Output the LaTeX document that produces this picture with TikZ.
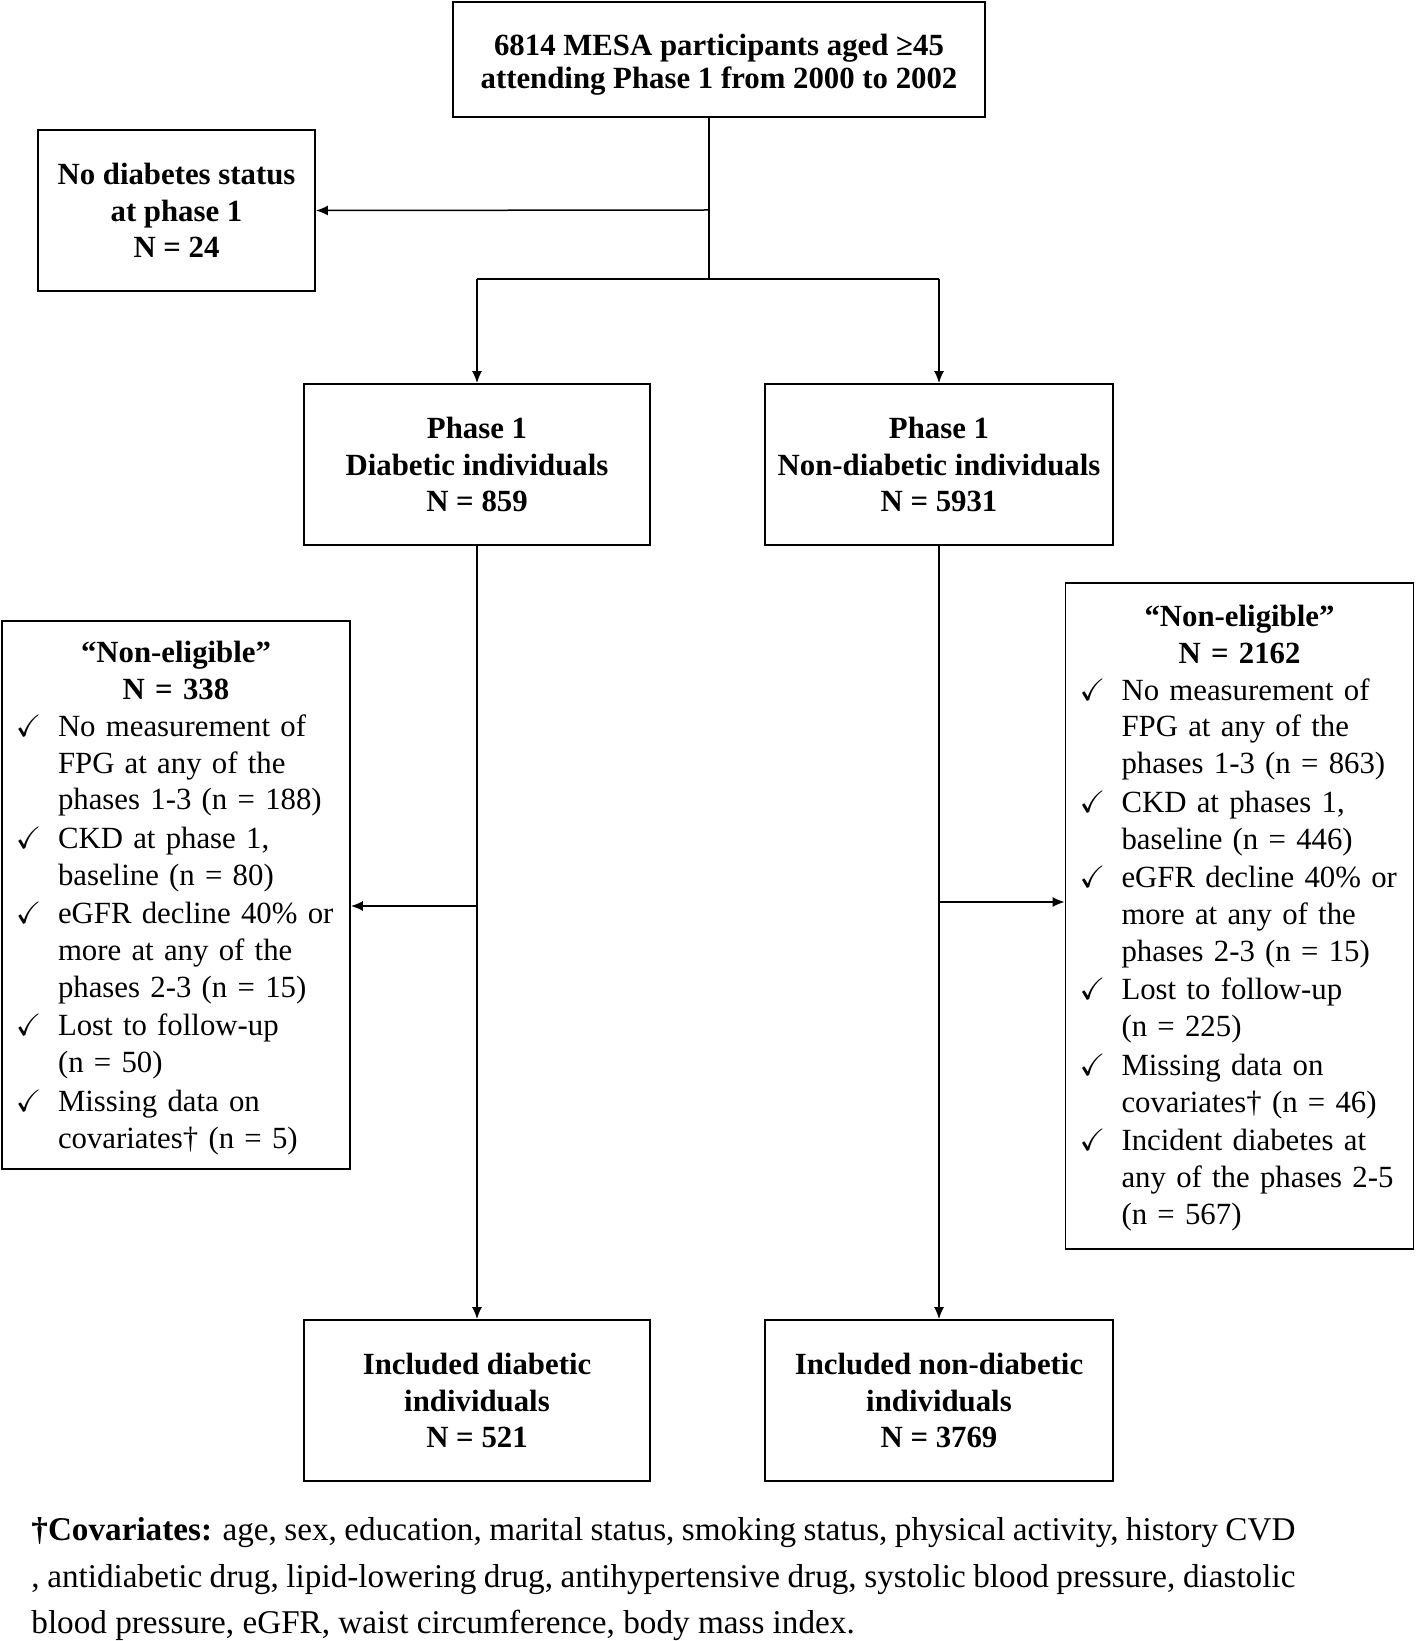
\documentclass[tikz,border=0pt]{standalone}
\usepackage{amssymb}
\usepackage{fontspec}
\setmainfont{Liberation Serif}
\usetikzlibrary{arrows.meta}

\newcommand{\tick}[1]{\par\noindent\makebox[22pt][l]{\hspace{1pt}$\checkmark$}\begin{tabular}[t]{@{}l@{}}#1\end{tabular}\par}

\begin{document}
\begin{tikzpicture}[x=0.5pt, y=-0.5pt,
  box/.style={draw, line width=0.9pt, inner sep=0pt, align=center, minimum height=80.5pt,
    font=\fontsize{15.4}{18.4}\selectfont\bfseries},
  excl/.style={draw, line width=0.9pt, inner xsep=6pt, inner ysep=0pt, text width=162pt,
    font=\fontsize{15.4}{18.35}\selectfont},
  flow/.style={line width=0.75pt},
  arr/.style={flow, -{Latex[length=6pt, width=5pt]}}]
\useasboundingbox (0,0) rectangle (1416,1641);

\node[box, minimum width=266pt, minimum height=57.5pt, font=\fontsize{15.4}{16.7}\selectfont\bfseries] (mesa) at (719,59.5) {\rule{0pt}{16pt}6814 MESA participants aged ≥45\\attending Phase 1 from 2000 to 2002};
\node[box, minimum width=138.5pt] (nostat) at (176.5,210.5) {No diabetes status\\at phase 1\\N = 24};
\node[box, minimum width=173pt] (dia) at (477,464.5) {Phase 1\\Diabetic individuals\\N = 859};
\node[box, minimum width=174pt] (nondia) at (939,464.5) {Phase 1\\Non-diabetic individuals\\N = 5931};

\node[excl, minimum height=274pt] (exdia) at (176,895) {%
{\centering\bfseries\rule{0pt}{16pt}“Non-eligible”\par N = 338\par}
\tick{No measurement of\\FPG at any of the\\phases 1-3 (n = 188)}
\tick{CKD at phase 1,\\baseline (n = 80)}
\tick{eGFR decline 40\% or\\more at any of the\\phases 2-3 (n = 15)}
\tick{Lost to follow-up\\(n = 50)}
\tick{Missing data on\\covariates† (n = 5)}};
\node[excl, minimum height=333pt] (exnondia) at (1239.5,916) {%
{\centering\bfseries\rule{0pt}{15pt}“Non-eligible”\par N = 2162\par}
\tick{No measurement of\\FPG at any of the\\phases 1-3 (n = 863)}
\tick{CKD at phases 1,\\baseline (n = 446)}
\tick{eGFR decline 40\% or\\more at any of the\\phases 2-3 (n = 15)}
\tick{Lost to follow-up\\(n = 225)}
\tick{Missing data on\\covariates† (n = 46)}
\tick{Incident diabetes at\\any of the phases 2-5\\(n = 567)}};

\node[box, minimum width=173pt] (incdia) at (477,1400.5) {Included diabetic\\individuals\\N = 521};
\node[box, minimum width=174pt] (incnondia) at (939,1400.5) {Included non-diabetic\\individuals\\N = 3769};

% connectors
\coordinate (split) at (709,279);
\coordinate (side) at (709,210);
\draw[flow] (mesa.south -| split) -- (split);
\draw[arr] (side) -- (nostat.east);
\draw[flow] (dia.north |- split) -- (nondia.north |- split);
\draw[arr] (dia.north |- split) -- (dia.north);
\draw[arr] (nondia.north |- split) -- (nondia.north);
\draw[arr] (dia.south) -- (incdia.north);
\draw[arr] (nondia.south) -- (incnondia.north);
\coordinate (ldrop) at (477,906);
\draw[arr] (ldrop) -- (ldrop -| exdia.east);
\coordinate (rdrop) at (939,902);
\draw[arr] (rdrop) -- (rdrop -| exnondia.west);

% footnote
\node[anchor=north west, align=left, inner sep=0pt, font=\fontsize{16.6}{23.3}\selectfont] (note) at (31,1517) {\makebox[632pt][s]{\textbf{†Covariates:} age, sex, education, marital status, smoking status, physical activity, history CVD}\\\makebox[632pt][s]{, antidiabetic drug, lipid-lowering drug, antihypertensive drug, systolic blood pressure, diastolic}\\blood pressure, eGFR, waist circumference, body mass index.};
\end{tikzpicture}
\end{document}
